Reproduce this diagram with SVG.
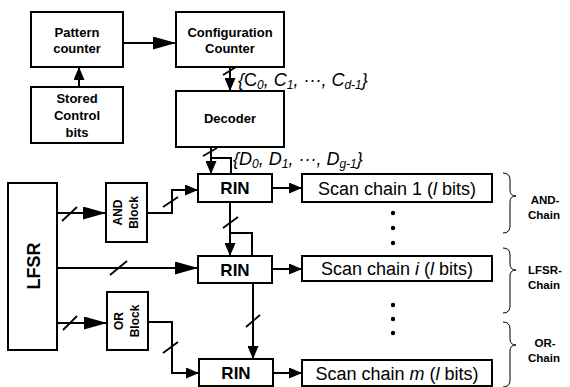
<svg xmlns="http://www.w3.org/2000/svg" width="570" height="387" viewBox="0 0 570 387">
<style>
.box{fill:#fff;stroke:#000;stroke-width:2}
.ln{fill:none;stroke:#000;stroke-width:2}
.sl{fill:none;stroke:#000;stroke-width:1.8}
.b13{font-family:"Liberation Sans",Arial,sans-serif;font-weight:bold;font-size:13px;text-anchor:middle}
.rin{font-family:"Liberation Sans",Arial,sans-serif;font-weight:bold;font-size:17px;text-anchor:middle}
.sc{font-family:"Liberation Sans",Arial,sans-serif;font-size:18px;text-anchor:middle}
.lab{font-family:"Liberation Sans",Arial,sans-serif;font-style:italic;font-size:18px}
.ch{font-family:"Liberation Sans",Arial,sans-serif;font-weight:bold;font-size:11.5px;text-anchor:middle}
.br{fill:none;stroke:#000;stroke-width:1}
</style>
<defs>
<marker id="big" markerUnits="userSpaceOnUse" markerWidth="23" markerHeight="13" refX="23" refY="6.5" orient="auto"><path d="M0,0 L23,6.5 L0,13 Z" fill="#000"/></marker>
<marker id="sm" markerUnits="userSpaceOnUse" markerWidth="13" markerHeight="11" refX="13" refY="5.5" orient="auto"><path d="M0,0 L13,5.5 L0,11 Z" fill="#000"/></marker>
</defs>
<g id="pattern-counter"><rect class="box" x="31" y="12" width="92" height="55"/><text class="b13" x="77" y="37">Pattern</text><text class="b13" x="77" y="53">counter</text></g>
<g id="configuration-counter"><rect class="box" x="176" y="12" width="108" height="55"/><text class="b13" x="230" y="37">Configuration</text><text class="b13" x="230" y="53">Counter</text></g>
<g id="stored-control-bits"><rect class="box" x="31" y="87" width="92" height="56"/><text class="b13" x="77" y="103">Stored</text><text class="b13" x="77" y="120">Control</text><text class="b13" x="77" y="137">bits</text></g>
<g id="decoder"><rect class="box" x="176" y="91" width="108" height="56"/><text class="b13" x="230" y="123">Decoder</text></g>
<g id="lfsr"><rect class="box" x="8" y="183" width="49" height="167"/><text class="b13" style="font-size:18px" transform="translate(39.5,266) rotate(-90)">LFSR</text></g>
<g id="and-block"><rect class="box" x="106" y="183" width="41" height="59"/><text class="b13" style="font-size:12px" transform="translate(122,212.5) rotate(-90)">AND</text><text class="b13" style="font-size:12px" transform="translate(138,212.5) rotate(-90)">Block</text></g>
<g id="or-block"><rect class="box" x="107" y="292" width="41" height="58"/><text class="b13" style="font-size:12px" transform="translate(122.5,321) rotate(-90)">OR</text><text class="b13" style="font-size:12px" transform="translate(138.5,321) rotate(-90)">Block</text></g>
<g id="rin1"><rect class="box" x="198" y="174" width="74" height="28"/><text class="rin" x="235" y="194">RIN</text></g>
<g id="rin2"><rect class="box" x="198" y="256" width="74" height="27"/><text class="rin" x="235" y="276">RIN</text></g>
<g id="rin3"><rect class="box" x="199" y="359" width="74" height="27"/><text class="rin" x="236" y="379">RIN</text></g>
<g id="scan1"><rect class="box" x="302" y="174" width="190" height="28"/><text class="sc" x="397" y="194.5">Scan chain 1 (<tspan font-style="italic">l</tspan> bits)</text></g>
<g id="scani"><rect class="box" x="302" y="256" width="190" height="25"/><text class="sc" x="397" y="275">Scan chain <tspan font-style="italic">i</tspan> (<tspan font-style="italic">l</tspan> bits)</text></g>
<g id="scanm"><rect class="box" x="302" y="360" width="190" height="26"/><text class="sc" x="397" y="379.5">Scan chain <tspan font-style="italic">m</tspan> (<tspan font-style="italic">l</tspan> bits)</text></g>
<g id="connectors">
<path class="ln" d="M123,43 H176" marker-end="url(#big)"/>
<path class="ln" d="M79,87 V67" marker-end="url(#sm)"/>
<path class="ln" d="M230,67 V91" marker-end="url(#sm)"/>
<path class="sl" d="M223,75 L236,67"/>
<path class="ln" d="M211,147 V174" marker-end="url(#sm)"/>
<path class="ln" d="M211,158 H231 V174"/>
<path class="sl" d="M203,156 L217,148"/>
<path class="ln" d="M57,213 H106" marker-end="url(#big)"/>
<path class="sl" d="M62,221 L77,207"/>
<path class="ln" d="M57,268 H198" marker-end="url(#big)"/>
<path class="sl" d="M110,275 L127,261"/>
<path class="ln" d="M57,323 H107" marker-end="url(#big)"/>
<path class="sl" d="M63,330 L77,316"/>
<path class="ln" d="M147,213 H172 V190 H198" marker-end="url(#sm)"/>
<path class="sl" d="M163,207 L178,197"/>
<path class="ln" d="M148,322 H172 V373 H199" marker-end="url(#sm)"/>
<path class="sl" d="M163,353 L178,342"/>
<path class="ln" d="M230,202 V256" marker-end="url(#sm)"/>
<path class="ln" d="M230,233 H252 V256"/>
<path class="sl" d="M223,228 L238,217"/>
<path class="ln" d="M253,283 V359" marker-end="url(#sm)"/>
<path class="sl" d="M246,327 L260,315"/>
<path class="ln" d="M272,188 H302" marker-end="url(#sm)"/>
<path class="ln" d="M272,269 H302" marker-end="url(#sm)"/>
<path class="ln" d="M273,373 H302" marker-end="url(#sm)"/>
</g>
<g id="labels">
<text class="lab" x="238" y="86">{<tspan font-style="normal">C</tspan><tspan font-size="12" dy="3">0</tspan><tspan dy="-3">, C</tspan><tspan font-size="12" dy="3">1</tspan><tspan dy="-3">,  ···, C</tspan><tspan font-size="12" dy="3">d-1</tspan><tspan dy="-3">}</tspan></text>
<text class="lab" x="233" y="165">{D<tspan font-size="12" dy="3">0</tspan><tspan dy="-3">, D</tspan><tspan font-size="12" dy="3">1</tspan><tspan dy="-3">,  ···, D</tspan><tspan font-size="12" dy="3">g-1</tspan><tspan dy="-3">}</tspan></text>
</g>
<g id="dots" fill="#000">
<circle cx="393" cy="213" r="2.2"/><circle cx="393" cy="228" r="2.2"/><circle cx="393" cy="243" r="2.2"/>
<circle cx="393" cy="305" r="2.2"/><circle cx="393" cy="319" r="2.2"/><circle cx="393" cy="333" r="2.2"/>
</g>
<g id="braces">
<path class="br" d="M503,173 Q510,173 510,180 V190 Q510,196 516,196 Q510,196 510,202 V226 Q510,233 503,233"/>
<path class="br" d="M503,248 Q510,248 510,255 V264 Q510,270 516,270 Q510,270 510,276 V306 Q510,313 503,313"/>
<path class="br" d="M503,322 Q510,322 510,329 V339 Q510,345 516,345 Q510,345 510,351 V380 Q510,387 503,387"/>
<text class="ch" x="545" y="204">AND-</text><text class="ch" x="544" y="219">Chain</text>
<text class="ch" x="545" y="274">LFSR-</text><text class="ch" x="544" y="289">Chain</text>
<text class="ch" x="545" y="347">OR-</text><text class="ch" x="544" y="362">Chain</text>
</g>
</svg>
